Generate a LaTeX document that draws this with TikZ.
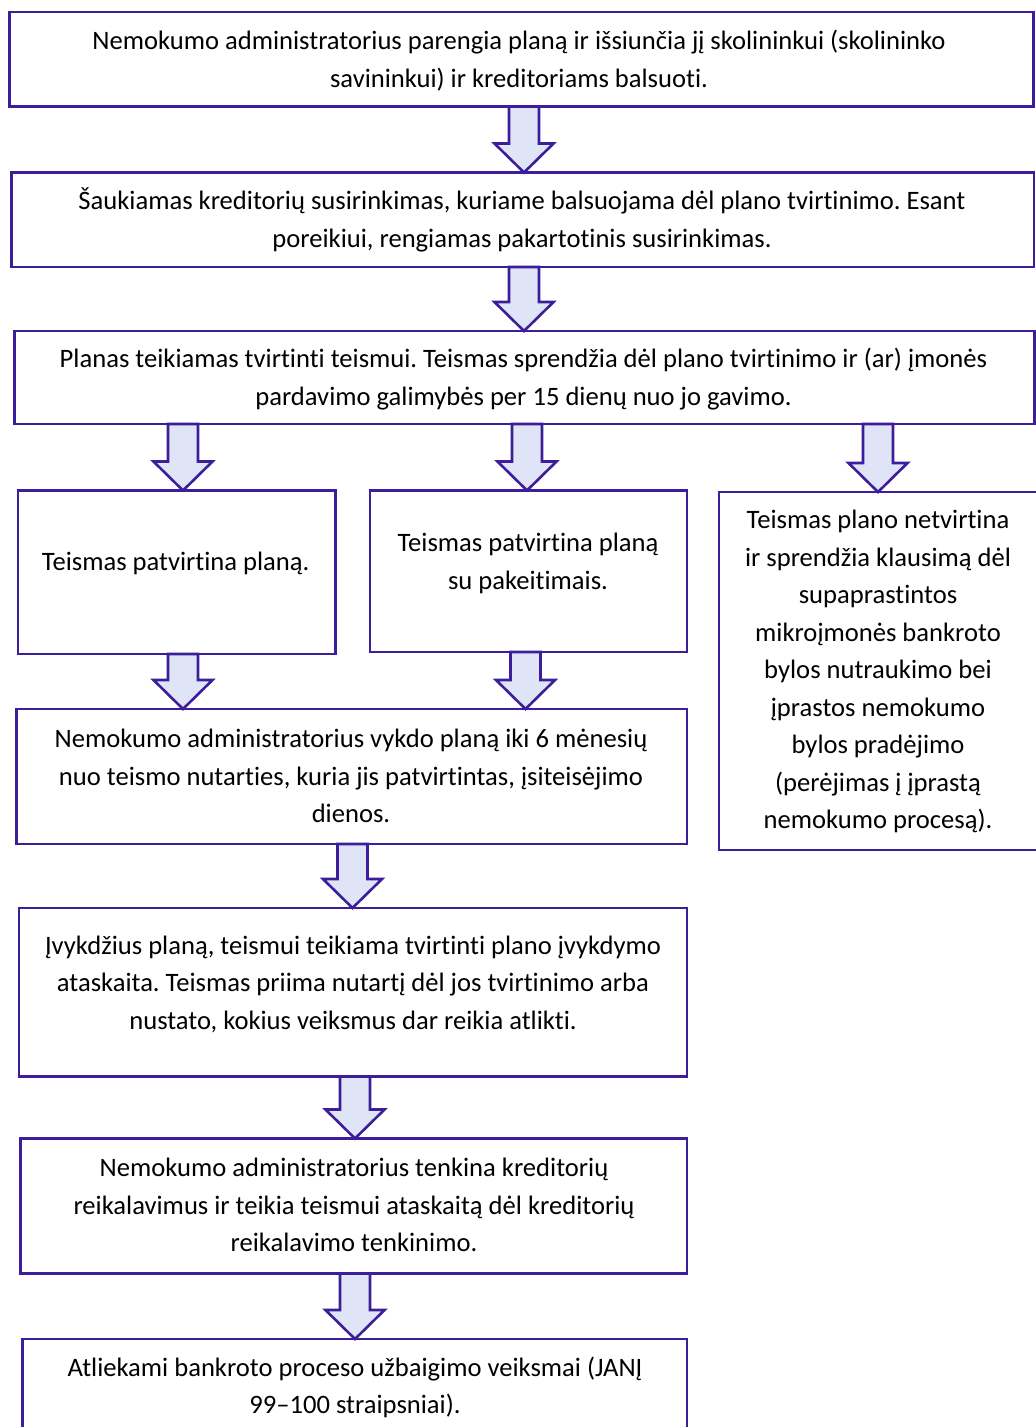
\documentclass[tikz,border=0pt]{standalone}
\usepackage{fontspec}
\setmainfont{Carlito}[Ligatures={NoCommon}]
\frenchspacing
\usetikzlibrary{calc}
\definecolor{bord}{HTML}{3C1E9B}
\definecolor{arrfill}{HTML}{DFE4F6}
\tikzset{
  boxsty/.style={draw=bord, line width=2.6pt, fill=white, rectangle, inner sep=0pt, outer sep=0pt},
  txtsty/.style={align=center, font=\fontsize{26.6}{37.5}\selectfont, inner sep=0pt, text=black},
  arrsty/.style={draw=bord, line width=2.6pt, fill=arrfill, line join=miter}
}
\newcommand\boxat[5]{%
  \node[boxsty, minimum width={(#4-#2)*1pt}, minimum height={(#5-#3)*1pt}] (#1) at ({(#2+#4)/2*1pt},{-(#3+#5)/2*1pt}) {};%
}
\newcommand\blockarr[3]{%
  \draw[arrsty] let \p1=(#1.south), \p2=(#2.north) in
    (#3pt-15pt,\y1) -- (#3pt-15pt,\y2+29pt) -- (#3pt-29.5pt,\y2+29pt) -- (#3pt,\y2)
    -- (#3pt+29.5pt,\y2+29pt) -- (#3pt+15pt,\y2+29pt) -- (#3pt+15pt,\y1) -- cycle;%
}
\begin{document}
\begin{tikzpicture}[x=1pt,y=1pt]
\useasboundingbox (0,0) rectangle (1036,-1427);
% boxes
\boxat{b1}{9.5}{12}{1033.5}{106.5}
\boxat{b2}{11.5}{172.5}{1034}{267}
\boxat{b3}{14.5}{331}{1034.5}{424}
\boxat{bA}{18}{490.5}{335.5}{654}
\boxat{bB}{370}{490.5}{687}{652}
\boxat{bC}{719}{492}{1040}{850}
\boxat{bD}{16.5}{709}{687}{844}
\boxat{bE}{19}{908}{687}{1076.5}
\boxat{bF}{20.5}{1138.5}{687}{1273.5}
\boxat{bG}{22.5}{1339}{687}{1445}
% texts
\node[txtsty] (t1) at (519,-60.8) {Nemokumo administratorius parengia planą ir išsiunčia jį skolininkui (skolininko\\savininkui) ir kreditoriams balsuoti.};
\node[txtsty] (t2) at (522,-220) {Šaukiamas kreditorių susirinkimas, kuriame balsuojama dėl plano tvirtinimo. Esant\\poreikiui, rengiamas pakartotinis susirinkimas.};
\node[txtsty] (t3) at (523.5,-379.3) {Planas teikiamas tvirtinti teismui. Teismas sprendžia dėl plano tvirtinimo ir (ar) įmonės\\pardavimo galimybės per 15 dienų nuo jo gavimo.};
\node[txtsty] (tA) at (175.7,-563) {Teismas patvirtina planą.};
\node[txtsty] (tB) at (528,-563.5) {Teismas patvirtina planą\\su pakeitimais.};
\node[txtsty] (tC) at (878,-671.7) {Teismas plano netvirtina\\ir sprendžia klausimą dėl\\supaprastintos\\mikroįmonės bankroto\\bylos nutraukimo bei\\įprastos nemokumo\\bylos pradėjimo\\(perėjimas į įprastą\\nemokumo procesą).};
\node[txtsty] (tD) at (351,-776) {Nemokumo administratorius vykdo planą iki 6 mėnesių\\nuo teismo nutarties, kuria jis patvirtintas, įsiteisėjimo\\dienos.};
\node[txtsty] (tE) at (353,-984) {Įvykdžius planą, teismui teikiama tvirtinti plano įvykdymo\\ataskaita. Teismas priima nutartį dėl jos tvirtinimo arba\\nustato, kokius veiksmus dar reikia atlikti.};
\node[txtsty] (tF) at (354,-1205) {Nemokumo administratorius tenkina kreditorių\\reikalavimus ir teikia teismui ataskaitą dėl kreditorių\\reikalavimo tenkinimo.};
\node[txtsty] (tG) at (355,-1387.5) {Atliekami bankroto proceso užbaigimo veiksmai (JANĮ\\99–100 straipsniai).};
% arrows
\blockarr{b1}{b2}{524}
\blockarr{b2}{b3}{524}
\blockarr{b3}{bA}{183}
\blockarr{b3}{bB}{527}
\blockarr{b3}{bC}{878}
\blockarr{bA}{bD}{183}
\blockarr{bB}{bD}{525.5}
\blockarr{bD}{bE}{352.5}
\blockarr{bE}{bF}{355}
\blockarr{bF}{bG}{355}
\end{tikzpicture}
\end{document}
